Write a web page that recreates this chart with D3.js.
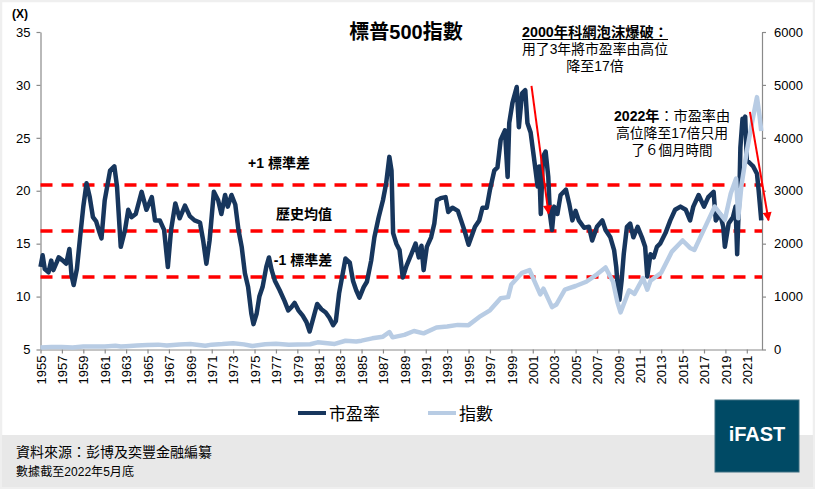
<!DOCTYPE html>
<html><head><meta charset="utf-8">
<script src="https://cdn.jsdelivr.net/npm/d3@7"></script>
<style>
body{margin:0;background:#fff}
svg{display:block}
text{font-family:"Liberation Sans",Arial,"Noto Sans CJK TC",sans-serif;fill:#000}
</style>
</head><body>
<svg id="c" width="815" height="489"></svg>
<script>
// ---- data ----
const peYears = [1955.0,1955.2,1955.4,1955.75,1956.0,1956.2,1956.5,1956.7,1957.1,1957.4,1957.7,1957.9,1958.1,1958.4,1958.7,1959.0,1959.3,1959.6,1959.9,1960.2,1960.5,1960.7,1961.0,1961.5,1961.9,1962.15,1962.5,1962.9,1963.2,1963.5,1963.9,1964.45,1964.9,1965.4,1965.7,1966.15,1966.55,1966.9,1967.2,1967.6,1968.0,1968.5,1968.95,1969.4,1969.9,1970.2,1970.5,1970.8,1971.2,1971.6,1971.9,1972.25,1972.5,1972.85,1973.2,1973.5,1973.8,1974.1,1974.4,1974.7,1974.9,1975.2,1975.45,1975.75,1976.1,1976.35,1976.6,1976.9,1977.35,1977.8,1978.15,1978.45,1978.75,1979.1,1979.5,1979.85,1980.15,1980.5,1980.85,1981.25,1981.65,1982.0,1982.35,1982.6,1982.9,1983.3,1983.5,1983.9,1984.2,1984.5,1984.8,1985.2,1985.5,1985.9,1986.2,1986.6,1987.0,1987.3,1987.6,1987.8,1987.95,1988.25,1988.55,1988.85,1989.2,1989.65,1990.05,1990.35,1990.6,1990.8,1991.1,1991.5,1991.8,1992.05,1992.4,1992.85,1993.1,1993.5,1994.0,1994.3,1994.6,1995.0,1995.25,1995.6,1996.0,1996.3,1996.7,1997.0,1997.4,1997.7,1998.0,1998.4,1998.65,1998.8,1999.1,1999.5,1999.7,2000.0,2000.3,2000.5,2000.8,2001.1,2001.3,2001.45,2001.6,2001.75,2001.95,2002.2,2002.45,2002.6,2002.8,2003.0,2003.3,2003.6,2004.1,2004.4,2004.7,2005.0,2005.3,2005.8,2006.25,2006.55,2007.0,2007.5,2007.8,2008.25,2008.6,2008.8,2009.0,2009.1,2009.3,2009.5,2009.8,2010.1,2010.4,2010.8,2011.2,2011.5,2011.7,2012.0,2012.3,2012.6,2012.9,2013.4,2013.85,2014.3,2014.8,2015.3,2015.7,2016.0,2016.5,2017.0,2017.4,2017.9,2018.1,2018.5,2018.8,2018.95,2019.3,2019.7,2019.95,2020.1,2020.2,2020.3,2020.4,2020.6,2020.7,2020.85,2021.0,2021.3,2021.6,2021.95,2022.1,2022.35];
const peValues = [12.8,13.9,12.6,12.3,13.4,12.5,13.2,13.7,13.4,13.1,14.5,12.0,11.1,12.6,15.6,18.5,20.7,19.4,17.5,17.1,16.1,15.5,19.1,21.9,22.3,20.4,14.7,16.3,18.2,17.5,17.8,19.9,18.2,19.4,17.2,17.2,16.3,12.8,16.3,18.8,17.4,18.6,17.6,17.2,17.0,15.3,13.1,15.3,19.9,19.1,17.8,19.6,18.5,19.6,18.7,16.3,14.7,12.2,10.9,8.4,7.4,8.4,10.0,10.9,12.8,13.7,12.5,11.5,10.6,9.6,8.7,9.0,9.4,8.7,8.2,7.6,6.7,8.0,9.3,8.8,8.5,8.0,7.3,7.7,10.3,12.5,13.6,13.2,11.5,10.6,9.9,10.9,11.4,13.4,15.6,17.5,19.1,20.7,23.2,21.9,16.0,15.0,14.4,11.8,12.9,14.0,15.0,13.7,14.8,12.5,14.7,15.6,16.9,19.1,19.3,19.4,18.0,18.4,18.1,17.2,16.3,14.9,15.6,16.6,17.2,18.4,18.4,20.1,21.9,22.2,24.8,25.7,21.3,26.4,28.3,29.8,26.0,29.2,29.5,26.4,25.5,23.2,21.6,20.4,22.3,17.8,23.2,23.7,21.3,17.8,16.3,18.5,17.8,19.6,20.1,18.8,17.2,18.1,17.2,16.5,16.6,15.3,16.6,17.2,16.3,15.6,14.4,12.8,10.0,9.7,11.5,14.0,16.6,16.9,15.6,16.6,15.6,14.7,11.9,14.0,13.7,14.7,15.0,16.0,17.2,18.2,18.5,18.2,17.2,18.5,19.6,18.5,19.4,19.9,17.2,17.8,16.6,14.7,16.9,17.5,18.5,14.0,17.0,19.4,24.1,26.8,26.4,27.0,22.9,22.6,22.3,21.6,20.1,17.2];

const idxYears = [1955.0,1956.0,1957.0,1958.0,1959.0,1960.0,1961.0,1962.0,1962.5,1963.0,1964.0,1965.0,1966.0,1966.8,1968.0,1969.0,1970.4,1971.0,1972.0,1973.0,1974.0,1974.8,1976.0,1977.0,1978.2,1979.0,1980.2,1980.9,1982.5,1983.5,1984.5,1985.0,1986.0,1987.0,1987.6,1987.9,1989.0,1989.9,1990.8,1992.0,1993.0,1994.0,1995.0,1996.0,1997.0,1998.0,1998.7,1999.0,2000.0,2000.7,2001.7,2002.0,2002.8,2003.2,2004.0,2005.0,2006.0,2007.0,2007.8,2008.5,2008.9,2009.2,2010.0,2010.5,2011.3,2011.7,2012.0,2013.0,2014.0,2015.0,2015.7,2016.1,2017.0,2018.0,2018.95,2019.5,2020.0,2020.2,2020.5,2021.0,2021.5,2021.95,2022.2,2022.35];
const idxValues = [36,45,46,40,55,59,58,70,55,63,75,85,92,75,95,103,72,92,102,118,97,65,100,107,88,96,100,135,105,165,150,167,211,242,330,230,277,350,305,415,435,465,460,615,740,970,990,1230,1450,1500,1040,1150,800,850,1130,1200,1280,1420,1550,1280,900,700,1120,1050,1350,1130,1300,1450,1850,2060,1920,1880,2270,2700,2450,2950,3230,2480,3100,3750,4300,4770,4400,4130];

const leftTicks = [5,10,15,20,25,30,35];
const rightTicks = [0,1000,2000,3000,4000,5000,6000];
const xTickYears = d3.range(1955, 2022, 2);
const refValues = [20.55, 16.2, 11.85];
const refLabels = ["+1 標準差", "歷史均值", "-1 標準差"];
const seriesNames = ["市盈率", "指數"];

// ---- layout ----
const svg = d3.select("#c");
const x = d3.scaleLinear().domain([1955, 2022.42]).range([40.5, 762]);
const yL = d3.scaleLinear().domain([5, 35]).range([349.5, 32]);
const yR = d3.scaleLinear().domain([0, 6000]).range([349.5, 32]);
const cPE = "#17365d", cIdx = "#b8cce4", cRed = "#ff0000", cAxis = "#8a8a8a";

// background / border
svg.append("rect").attr("x",1).attr("y",1).attr("width",813).attr("height",487)
  .attr("fill","#fff").attr("stroke","#efefef").attr("stroke-width",2.5);
svg.append("rect").attr("x",2).attr("y",435).attr("width",811).attr("height",52).attr("fill","#e8e8e8");

// axes
function styleAxis(g){
  g.selectAll("path,line").attr("stroke",cAxis).attr("stroke-width",1.2);
  g.selectAll("text").attr("font-size",13).attr("fill","#000")
   .style("font-family",'"Liberation Sans",Arial,sans-serif');
}
const gL = svg.append("g").attr("transform","translate(40.5,0)")
  .call(d3.axisLeft(yL).tickValues(leftTicks).tickSize(4).tickSizeOuter(0).tickPadding(6));
styleAxis(gL);
const gR = svg.append("g").attr("transform","translate(762,0)")
  .call(d3.axisRight(yR).tickValues(rightTicks).tickFormat(d3.format("d")).tickSize(4).tickSizeOuter(0).tickPadding(8));
styleAxis(gR);
const gB = svg.append("g").attr("transform","translate(0,349.5)")
  .call(d3.axisBottom(x).tickValues(xTickYears).tickFormat(d3.format("d")).tickSize(4).tickSizeOuter(0));
styleAxis(gB);
gB.selectAll("text").attr("transform","rotate(-90)").attr("text-anchor","end")
  .attr("x",-6).attr("y",0).attr("dy","0.36em");

// reference dashed lines
svg.append("g").selectAll("line").data(refValues).join("line")
  .attr("x1",x.range()[0]).attr("x2",x.range()[1])
  .attr("y1",d=>yL(d)).attr("y2",d=>yL(d))
  .attr("stroke",cRed).attr("stroke-width",3.5).attr("stroke-dasharray","12,9");

// series lines
const pe = peYears.map((t,i)=>[t,peValues[i]]);
const idx = idxYears.map((t,i)=>[t,idxValues[i]]);
svg.append("path").datum(pe).attr("fill","none").attr("stroke",cPE).attr("stroke-width",4.5)
  .attr("stroke-linejoin","round").attr("d",d3.line().x(d=>x(d[0])).y(d=>yL(d[1])));
svg.append("path").datum(idx).attr("fill","none").attr("stroke",cIdx).attr("stroke-width",4.5)
  .attr("stroke-linejoin","round").attr("d",d3.line().x(d=>x(d[0])).y(d=>yR(d[1])));

// reference labels
const refLabelPos = [[279,168],[304,219],[303,265]];
svg.append("g").selectAll("text").data(refLabels).join("text")
  .attr("x",(d,i)=>refLabelPos[i][0]).attr("y",(d,i)=>refLabelPos[i][1])
  .attr("text-anchor","middle").attr("font-size",14).attr("font-weight","bold").text(d=>d);

// axis unit
svg.append("text").attr("x",12).attr("y",18).attr("font-size",12).attr("font-weight","bold").text("(X)");

// title
svg.append("text").attr("x",406).attr("y",39).attr("text-anchor","middle")
  .attr("font-size",20).attr("font-weight","bold").text("標普500指數");

// annotations
const ann1 = ["2000年科網泡沫爆破：","用了3年將市盈率由高位","降至17倍"];
svg.append("text").attr("x",595).attr("y",37).attr("text-anchor","middle").attr("font-size",14)
  .attr("font-weight","bold").attr("textLength",146).attr("lengthAdjust","spacingAndGlyphs").text(ann1[0]);
svg.append("line").attr("x1",522).attr("x2",668).attr("y1",39.5).attr("y2",39.5).attr("stroke","#000").attr("stroke-width",1.2);
svg.append("text").attr("x",595).attr("y",54).attr("text-anchor","middle").attr("font-size",14)
  .attr("textLength",146).attr("lengthAdjust","spacingAndGlyphs").text(ann1[1]);
svg.append("text").attr("x",595).attr("y",71).attr("text-anchor","middle").attr("font-size",14).text(ann1[2]);

const ann2 = ["2022年","：市盈率由","高位降至17倍只用","了６個月時間"];
const t2 = svg.append("text").attr("x",672).attr("y",121).attr("text-anchor","middle").attr("font-size",14)
  .attr("textLength",116).attr("lengthAdjust","spacingAndGlyphs");
t2.append("tspan").attr("font-weight","bold").text(ann2[0]);
t2.append("tspan").text(ann2[1]);
svg.append("text").attr("x",672).attr("y",138).attr("text-anchor","middle").attr("font-size",14)
  .attr("textLength",112).attr("lengthAdjust","spacingAndGlyphs").text(ann2[2]);
svg.append("text").attr("x",672).attr("y",155).attr("text-anchor","middle").attr("font-size",14)
  .attr("textLength",81).attr("lengthAdjust","spacingAndGlyphs").text(ann2[3]);

// arrows (in data coordinates)
const defs = svg.append("defs");
defs.append("marker").attr("id","ah").attr("viewBox","0 0 10 10").attr("refX",9).attr("refY",5)
  .attr("markerWidth",11).attr("markerHeight",9).attr("markerUnits","userSpaceOnUse").attr("orient","auto")
  .append("path").attr("d","M0,0 L10,5 L0,10 z").attr("fill",cRed);
const arrows = [[[2000.88,29.9],[2002.47,17.85]],[[2021.29,27.46],[2023.03,17.2]]];
svg.append("g").selectAll("line").data(arrows).join("line")
  .attr("x1",d=>x(d[0][0])).attr("y1",d=>yL(d[0][1])).attr("x2",d=>x(d[1][0])).attr("y2",d=>yL(d[1][1]))
  .attr("stroke",cRed).attr("stroke-width",2).attr("marker-end","url(#ah)");

// legend
const lg = svg.append("g");
const legX = [298, 428];
lg.selectAll("line").data(seriesNames).join("line")
  .attr("x1",(d,i)=>legX[i]).attr("x2",(d,i)=>legX[i]+28).attr("y1",413).attr("y2",413)
  .attr("stroke",(d,i)=>i===0?cPE:cIdx).attr("stroke-width",4);
lg.selectAll("text").data(seriesNames).join("text")
  .attr("x",(d,i)=>legX[i]+31).attr("y",420).attr("font-size",17).text(d=>d);

// source
svg.append("text").attr("x",16).attr("y",457).attr("font-size",14).text("資料來源：彭博及奕豐金融編纂");
svg.append("text").attr("x",16).attr("y",476).attr("font-size",12)
  .attr("textLength",118).attr("lengthAdjust","spacingAndGlyphs").text("數據截至2022年5月底");

// logo
svg.append("rect").attr("x",715).attr("y",400).attr("width",84).attr("height",72)
  .attr("fill","#004a65").attr("stroke","#3c6f82").attr("stroke-width",1);
svg.append("text").attr("x",757).attr("y",441).attr("text-anchor","middle").attr("font-size",20)
  .attr("font-weight","bold").style("fill","#fff").text("iFAST");
</script>
</body></html>
